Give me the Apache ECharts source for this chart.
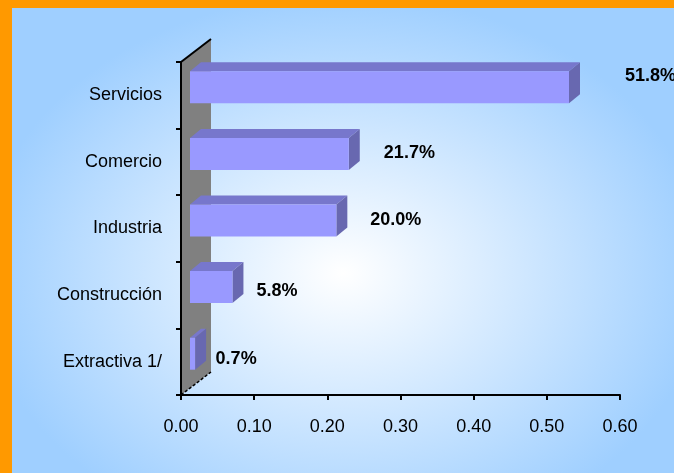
<!DOCTYPE html>
<html>
<head>
<meta charset="utf-8">
<script src="https://cdn.jsdelivr.net/npm/echarts@6/dist/echarts.min.js"></script>
<style>
  html, body { margin: 0; padding: 0; background: #ff9900; }
  #panel {
    position: absolute; left: 12px; top: 8px; width: 662px; height: 465px;
    background: radial-gradient(ellipse 55% 60% at 50% 57%, #ffffff 0%, #d9ecff 40%, #9fcfff 100%);
  }
  #chart { position: absolute; left: 0; top: 0; width: 674px; height: 473px; }
</style>
</head>
<body>
<div id="panel"></div>
<div id="chart"></div>
<script>
const categories = ['Servicios', 'Comercio', 'Industria', 'Construcción', 'Extractiva 1/'];
const shares = [0.518, 0.217, 0.200, 0.058, 0.007];
const shareLabels = ['51.8%', '21.7%', '20.0%', '5.8%', '0.7%'];
const xMin = 0, xMax = 0.6, xStep = 0.1;

const font = "'Liberation Sans', Arial, sans-serif";

document.addEventListener('DOMContentLoaded', () => {
  const chart = echarts.init(document.getElementById('chart'), null, { renderer: 'canvas' });

  // gray back wall behind the bars
  function renderWall(params, api) {
    const band = api.size([0, 1])[1];
    const top = api.coord([0, 0])[1] - band / 2;
    const bottom = api.coord([0, categories.length - 1])[1] + band / 2;
    const x = api.coord([0, 0])[0];
    const dx = 30, dy = -23;
    return {
      type: 'group',
      children: [
        { type: 'polygon', shape: { points: [[x, top], [x + dx, top + dy], [x + dx, bottom + dy], [x, bottom]] },
          style: { fill: '#808080', stroke: null } },
        { type: 'line', shape: { x1: x, y1: top, x2: x + dx, y2: top + dy }, style: { stroke: '#000', lineWidth: 2 } },
        { type: 'line', shape: { x1: x, y1: bottom, x2: x + dx, y2: bottom + dy }, style: { stroke: '#000', lineWidth: 1.5, lineDash: [3, 2] } }
      ]
    };
  }

  function renderBar(params, api) {
    const val = api.value(0);
    const cat = api.value(1);
    const start = api.coord([0, cat]);
    const end = api.coord([val, cat]);
    const band = api.size([0, 1])[1];
    const h = band * 0.48;
    const ox = 9, oy = -8, dx = 11, dy = -9;
    const x0 = start[0] + ox, x1 = end[0] + ox;
    const yT = start[1] + oy - h / 2, yB = yT + h;
    const len = x1 - x0;
    return {
      type: 'group',
      children: [
        { type: 'polygon', shape: { points: [[x0, yT], [x1, yT], [x1 + dx, yT + dy], [x0 + dx, yT + dy]] },
          style: { fill: '#7777cc' } },
        { type: 'polygon', shape: { points: [[x1, yT], [x1 + dx, yT + dy], [x1 + dx, yB + dy], [x1, yB]] },
          style: { fill: '#6868b0' } },
        { type: 'rect', shape: { x: x0, y: yT, width: len, height: h },
          style: { fill: '#9999ff' } },
        { type: 'text', x: x1 + 20 + 0.095 * len, y: start[1] - 2 - 0.045 * len,
          style: { text: shareLabels[params.dataIndex], fill: '#000',
                   fontSize: 18, fontWeight: 'bold', fontFamily: font,
                   align: 'left', verticalAlign: 'middle' } }
      ]
    };
  }

  chart.setOption({
    animation: false,
    grid: { left: 181, right: 54, top: 62, bottom: 78 },
    xAxis: {
      type: 'value', min: xMin, max: xMax, interval: xStep, z: 5,
      splitLine: { show: false },
      axisLine: { show: true, lineStyle: { color: '#000', width: 2 } },
      axisTick: { show: true, length: 5, lineStyle: { color: '#000', width: 2 } },
      axisLabel: { color: '#000', fontFamily: font, fontSize: 18, margin: 23,
                   formatter: v => v.toFixed(2) }
    },
    yAxis: {
      type: 'category', data: categories, inverse: true, z: 5,
      axisLine: { show: true, lineStyle: { color: '#000', width: 2 } },
      axisTick: { show: true, length: 5, lineStyle: { color: '#000', width: 2 } },
      axisLabel: { color: '#000', fontFamily: font, fontSize: 18, margin: 19 }
    },
    series: [
      { type: 'custom', renderItem: renderWall, data: [[0, 0]], z: 1, silent: true },
      { type: 'custom', renderItem: renderBar, z: 3,
        encode: { x: 0, y: 1 },
        data: shares.map((v, i) => [v, i]) }
    ]
  });
});
</script>
</body>
</html>
